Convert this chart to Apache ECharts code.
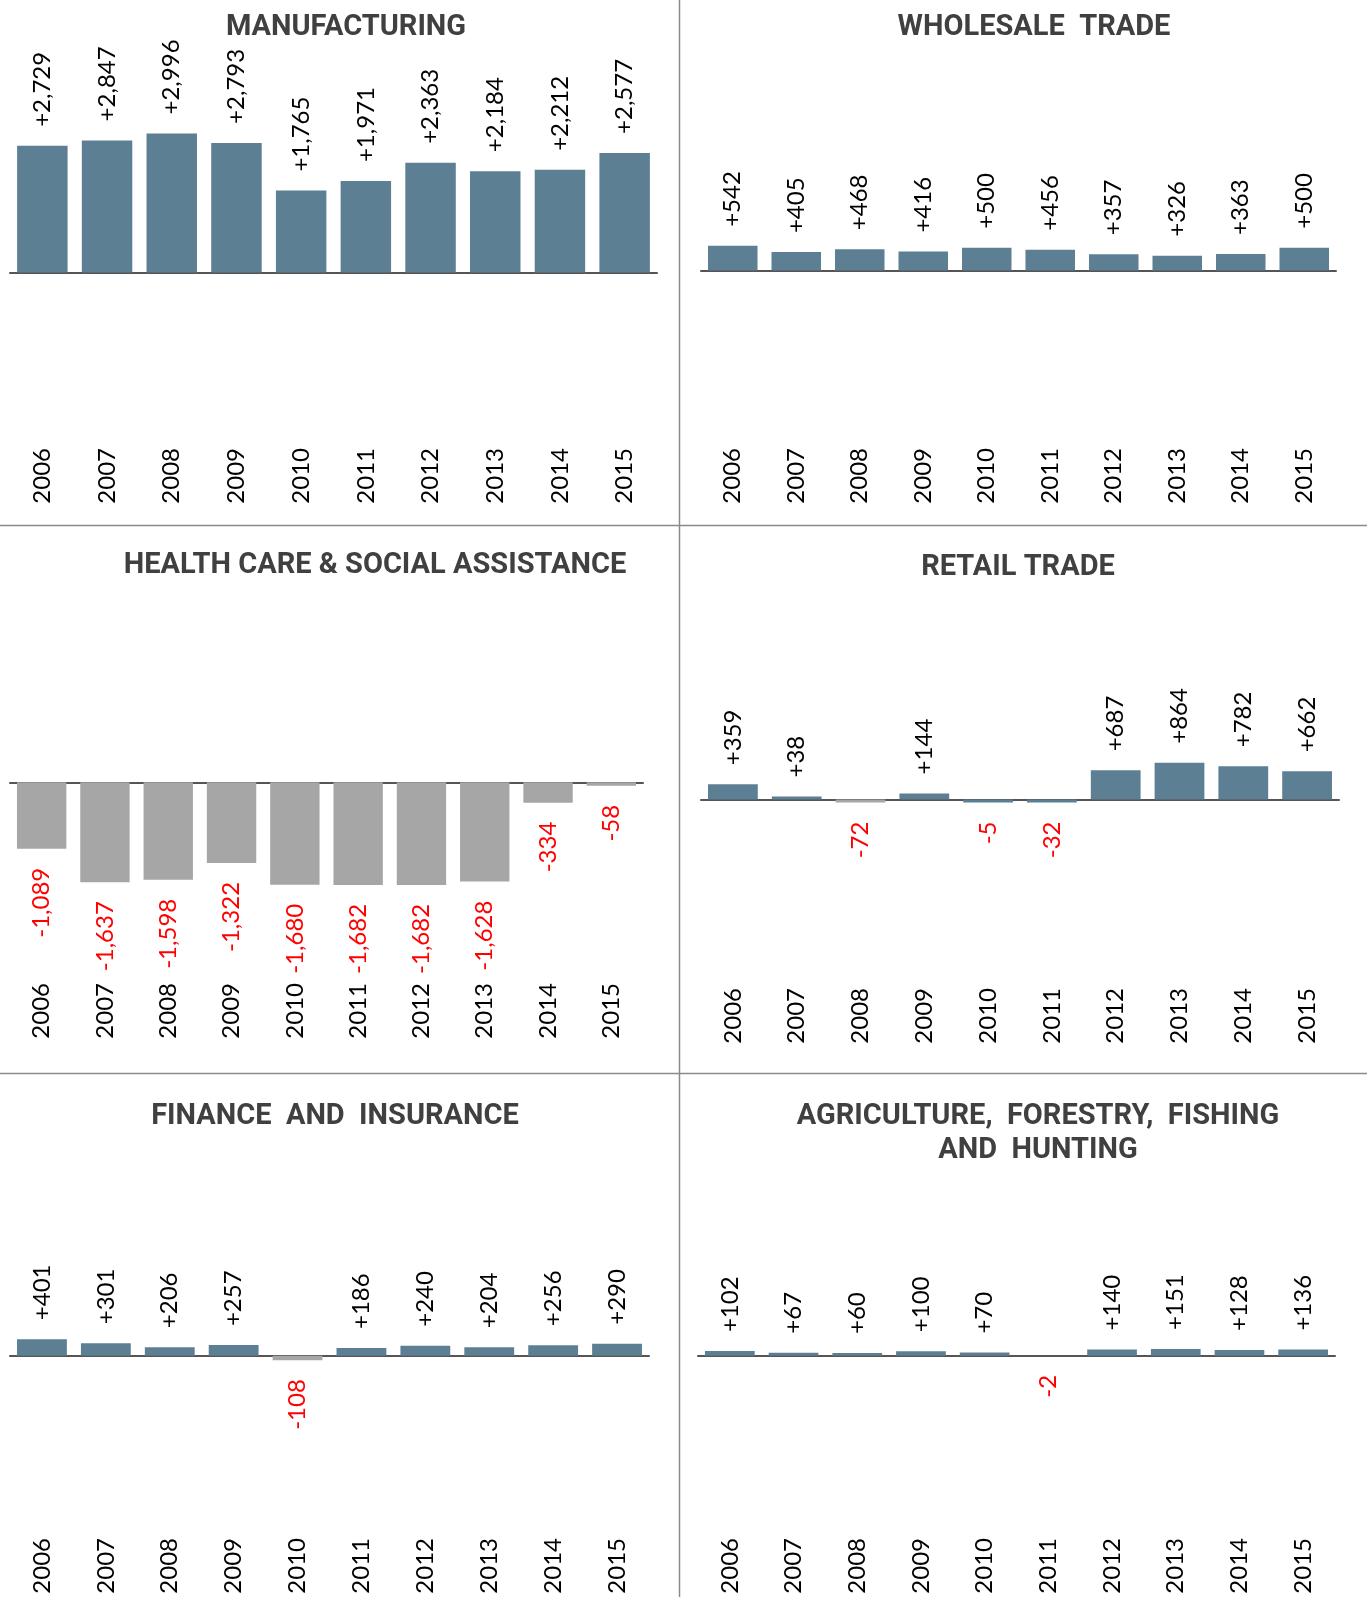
<!DOCTYPE html>
<html lang="en">
<head>
    <meta charset="UTF-8">
    <title>Change by industry 2006-2015</title>
    <script src="https://cdn.jsdelivr.net/npm/echarts@6.0.0/dist/echarts.min.js"></script>
    <style>
        body {
            margin: 0;
            background: #fff;
        }
        #chart {
            width: 1370px;
            height: 1597px;
        }
    </style>
</head>
<body>
    <div id="chart"></div>
    <script>
        const years = ['2006', '2007', '2008', '2009', '2010', '2011', '2012', '2013', '2014', '2015'];

        const manufacturing = [2729, 2847, 2996, 2793, 1765, 1971, 2363, 2184, 2212, 2577];
        const wholesale = [542, 405, 468, 416, 500, 456, 357, 326, 363, 500];
        const healthCare = [-1089, -1637, -1598, -1322, -1680, -1682, -1682, -1628, -334, -58];
        const retail = [359, 38, -72, 144, -5, -32, 687, 864, 782, 662];
        const finance = [401, 301, 206, 257, -108, 186, 240, 204, 256, 290];
        const agriculture = [102, 67, 60, 100, 70, -2, 140, 151, 128, 136];

        const POS_COLOR = '#5c7f93';
        const NEG_COLOR = '#a6a6a6';
        const FONT = 'Lato';

        // where each small chart sits on the page
        const panels = [
            { title: 'MANUFACTURING', values: manufacturing,
              left: 10, right: 657, zeroY: 272.5, pxPerUnit: 0.0464, yearsTop: 448, titleX: 346, titleY: 28 },
            { title: 'WHOLESALE  TRADE', values: wholesale,
              left: 701, right: 1336, zeroY: 270.5, pxPerUnit: 0.0455, yearsTop: 448, titleX: 1034, titleY: 28 },
            { title: 'HEALTH CARE & SOCIAL ASSISTANCE', values: healthCare,
              left: 10, right: 643, zeroY: 782.3, pxPerUnit: 0.061, yearsTop: 983, titleX: 375, titleY: 566 },
            { title: 'RETAIL TRADE', values: retail, blueNeg: [4, 5], minHeight: 3,
              left: 701, right: 1339, zeroY: 799.5, pxPerUnit: 0.0425, yearsTop: 988, titleX: 1018, titleY: 568 },
            { title: 'FINANCE  AND  INSURANCE', values: finance,
              left: 10, right: 649, zeroY: 1355.7, pxPerUnit: 0.0413, yearsTop: 1538, titleX: 335, titleY: 1117 },
            { title: 'AGRICULTURE,  FORESTRY,  FISHING\nAND  HUNTING', values: agriculture,
              left: 698, right: 1335, zeroY: 1355.7, pxPerUnit: 0.045, yearsTop: 1538, titleX: 1038, titleY: 1134 }
        ];

        function fmt(v) {
            return (v > 0 ? '+' : '') + v.toLocaleString('en-US');
        }

        const grid = [], xAxis = [], yAxis = [], series = [], graphic = [];

        panels.forEach((p, i) => {
            const top = p.titleY + 30;
            const bottom = p.yearsTop - 6;
            grid.push({ left: p.left, width: p.right - p.left, top: top, height: bottom - top });

            // baseline at zero, no labels
            xAxis.push({
                type: 'category', gridIndex: i, data: years,
                axisLine: { onZero: true, lineStyle: { color: '#555', width: 2 } },
                axisTick: { show: false },
                axisLabel: { show: false }
            });
            // year labels along the bottom
            xAxis.push({
                type: 'category', gridIndex: i, data: years, position: 'bottom',
                axisLine: { show: false, onZero: false },
                axisTick: { show: false },
                axisLabel: { rotate: 90, margin: 6, fontSize: 24, fontFamily: FONT, color: '#000' }
            });
            yAxis.push({
                type: 'value', gridIndex: i, show: false,
                max: (p.zeroY - top) / p.pxPerUnit,
                min: -(bottom - p.zeroY) / p.pxPerUnit,
                splitLine: { show: false }
            });

            const blue = p.blueNeg || [];
            series.push({
                type: 'bar',
                xAxisIndex: i * 2,
                yAxisIndex: i,
                barWidth: '78%',
                barMinHeight: p.minHeight || 0,
                animation: false,
                label: {
                    show: true, rotate: 90, distance: 19, verticalAlign: 'middle',
                    fontSize: 24, fontFamily: FONT,
                    formatter: d => fmt(d.value)
                },
                data: p.values.map((v, k) => ({
                    value: v,
                    itemStyle: { color: v >= 0 || blue.includes(k) ? POS_COLOR : NEG_COLOR },
                    label: v >= 0
                        ? { position: 'top', align: 'left', color: '#000' }
                        : { position: 'bottom', align: 'right', color: '#ff0000' }
                }))
            });

            graphic.push({
                type: 'text', x: p.titleX, y: p.titleY,
                style: {
                    text: p.title, fill: '#404040', font: 'bold 29px Roboto',
                    align: 'center', verticalAlign: 'middle', lineHeight: 34
                }
            });
        });

        // divider lines between the panels
        const lineStyle = { stroke: '#8a8a8a', lineWidth: 1.5 };
        graphic.push(
            { type: 'line', shape: { x1: 679.5, y1: 0, x2: 679.5, y2: 1597 }, style: lineStyle },
            { type: 'line', shape: { x1: 0, y1: 525.5, x2: 1367, y2: 525.5 }, style: lineStyle },
            { type: 'line', shape: { x1: 0, y1: 1073.5, x2: 1367, y2: 1073.5 }, style: lineStyle }
        );

        const chart = echarts.init(document.getElementById('chart'));
        chart.setOption({
            animation: false,
            grid: grid,
            xAxis: xAxis,
            yAxis: yAxis,
            series: series,
            graphic: graphic
        });
    </script>
</body>
</html>
